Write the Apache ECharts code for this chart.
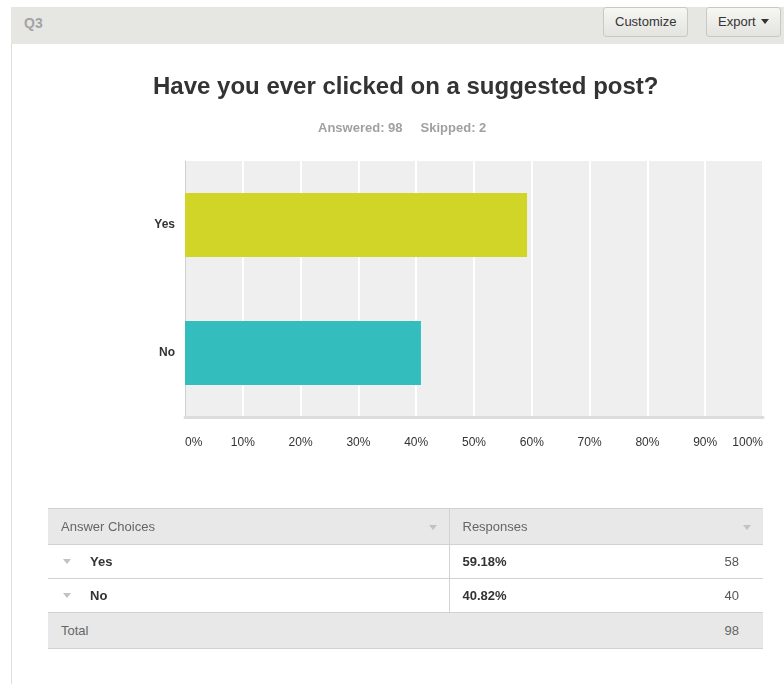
<!DOCTYPE html>
<html lang="en">
<head>
<meta charset="utf-8">
<style>
  html, body { margin: 0; padding: 0; width: 784px; height: 684px; overflow: hidden; background: #fff;
    font-family: "Liberation Sans", Arial, sans-serif; }
  #panel { position: absolute; left: 11px; top: 7px; right: 0; bottom: 0; border-left: 1px solid #ddd; }
  #head { position: absolute; left: 11px; top: 7px; width: 773px; height: 37px; background: #e6e6e3; }
  #head .q { position: absolute; left: 13px; top: 8px; font-size: 14px; font-weight: bold; color: #a3a3a3; }
  .btn { position: absolute; top: 0; height: 28px; line-height: 28px; font-size: 13px; color: #333;
    background: linear-gradient(#f6f6f3, #e3e3df); border: 1px solid #c9c9c4; border-radius: 3px; padding: 0 11px; }
  .btn .caret { display: inline-block; width: 0; height: 0; border-left: 4px solid transparent; border-right: 4px solid transparent;
    border-top: 5px solid #333; margin-left: 5px; vertical-align: 2px; }
  #container { position: absolute; left: 0; top: 0; width: 784px; height: 684px; }
  table { position: absolute; left: 48px; top: 508px; width: 715px; border-collapse: collapse; font-size: 13px; color: #333;
    table-layout: fixed; }
  td { position: relative; height: 33px; padding: 0 0 0 13px; border-top: 1px solid #d2d2d2; border-bottom: 1px solid #d2d2d2;
    vertical-align: middle; }
  tr.gray td { background: #e8e8e8; color: #666; height: 35px; }
  td.div { border-right: 1px solid #d2d2d2; }
  td.num { text-align: right; padding-right: 24px; color: #555; }
  .tri { display: inline-block; width: 0; height: 0; border-left: 4px solid transparent; border-right: 4px solid transparent;
    border-top: 5px solid #c2c2c2; vertical-align: 2px; }
  .tri.r { position: absolute; right: 12px; top: 16px; }
  b { color: #333; }
</style>
<script src="https://cdn.jsdelivr.net/npm/echarts@6/dist/echarts.min.js"></script>
</head>
<body>
<div id="panel"></div>
<div id="head">
  <span class="q">Q3</span>
  <span class="btn" style="left:592px;">Customize</span>
  <span class="btn" style="left:695px;">Export<span class="caret"></span></span>
</div>
<div id="container"></div>
<table id="tbl"></table>

<script>
  var categories = ['Yes', 'No'];
  var percents = [59.18, 40.82];
  var counts = [58, 40];
  var answered = 98;
  var skipped = 2;
  var barColors = ['#d0d527', '#33bdbd'];

  // table under the chart
  var rows = '<colgroup><col style="width:401px"><col style="width:220px"><col></colgroup>' +
    '<tr class="gray"><td class="div">Answer Choices<span class="tri r"></span></td>' +
    '<td colspan="2">Responses<span class="tri r"></span></td></tr>';
  categories.forEach(function (c, i) {
    rows += '<tr><td class="div"><span class="tri" style="margin:0 19px 0 2px;"></span><b>' + c + '</b></td>' +
      '<td><b>' + percents[i].toFixed(2) + '%</b></td><td class="num">' + counts[i] + '</td></tr>';
  });
  rows += '<tr class="gray"><td colspan="2">Total</td><td class="num">' + answered + '</td></tr>';
  document.getElementById('tbl').innerHTML = rows;

  var myChart = echarts.init(document.getElementById('container'), null, { renderer: 'canvas' });

  var option = {
    animation: false,
    graphic: [{
      type: 'text', left: 153, top: 75,
      style: { text: 'Have you ever clicked on a suggested post?', font: 'bold 24px "Liberation Sans", Arial', fill: '#333' }
    }, {
      type: 'text', left: 318, top: 122,
      style: { text: 'Answered: ' + answered + '     Skipped: ' + skipped, font: 'bold 13px "Liberation Sans", Arial', fill: '#a0a0a0' }
    }],
    grid: {
      left: 185, right: 21, top: 161, bottom: 267,
      show: true, backgroundColor: '#efefef', borderWidth: 0
    },
    xAxis: {
      type: 'value', min: 0, max: 100, interval: 10,
      axisLine: { show: true, lineStyle: { color: '#dcdcdc', width: 3 } },
      axisTick: { show: false },
      splitLine: { show: true, lineStyle: { color: '#fff', width: 2 } },
      axisLabel: {
        formatter: '{value}%', color: '#333', fontSize: 12, margin: 20,
        fontFamily: '"Liberation Sans", Arial',
        alignMinLabel: 'left', alignMaxLabel: 'right'
      }
    },
    yAxis: {
      type: 'category', inverse: true, data: categories,
      axisLine: { show: true, lineStyle: { color: '#d0d0d0', width: 1 } },
      axisTick: { show: false },
      axisLabel: { color: '#333', fontWeight: 'bold', fontSize: 12, margin: 10, fontFamily: '"Liberation Sans", Arial',
        padding: [3, 0, 0, 0] }
    },
    series: [{
      type: 'bar',
      barWidth: 64,
      data: percents.map(function (v, i) {
        return { value: v, itemStyle: { color: barColors[i] } };
      })
    }]
  };

  myChart.setOption(option);
</script>
</body>
</html>
